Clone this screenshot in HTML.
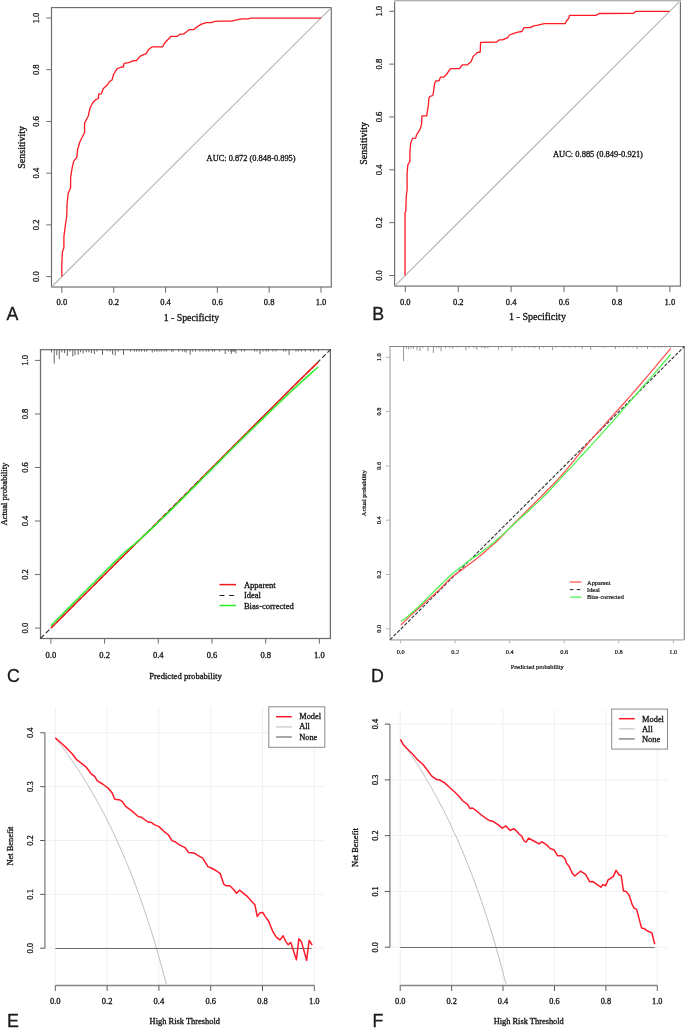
<!DOCTYPE html>
<html><head><meta charset="utf-8"><title>Figure</title>
<style>html,body{margin:0;padding:0;background:#fff;}svg{display:block;will-change:transform;} text{stroke:currentColor;stroke-width:0.3px;}</style></head>
<body><svg width="685" height="1028" viewBox="0 0 685 1028">

<rect x="51.5" y="7.6" width="279.8" height="279.4" fill="none" stroke="#6c6c6c" stroke-width="1.15"/>
<line x1="51.5" y1="287" x2="331.3" y2="7.6" stroke="#b4b4b4" stroke-width="1.1" />
<line x1="46.3" y1="276.6" x2="51.5" y2="276.6" stroke="#6c6c6c" stroke-width="1.0" />
<text transform="translate(39.1,276.6) rotate(-90)" text-anchor="middle" font-size="8.5" font-family="Liberation Serif, serif" fill="#111" color="#111" >0.0</text>
<line x1="61.9" y1="287" x2="61.9" y2="292.8" stroke="#6c6c6c" stroke-width="1.0" />
<text x="61.9" y="305.3" text-anchor="middle" font-size="8.5" font-family="Liberation Serif, serif" fill="#111" color="#111" >0.0</text>
<line x1="46.3" y1="224.88" x2="51.5" y2="224.88" stroke="#6c6c6c" stroke-width="1.0" />
<text transform="translate(39.1,224.88) rotate(-90)" text-anchor="middle" font-size="8.5" font-family="Liberation Serif, serif" fill="#111" color="#111" >0.2</text>
<line x1="113.72" y1="287" x2="113.72" y2="292.8" stroke="#6c6c6c" stroke-width="1.0" />
<text x="113.72" y="305.3" text-anchor="middle" font-size="8.5" font-family="Liberation Serif, serif" fill="#111" color="#111" >0.2</text>
<line x1="46.3" y1="173.16" x2="51.5" y2="173.16" stroke="#6c6c6c" stroke-width="1.0" />
<text transform="translate(39.1,173.16) rotate(-90)" text-anchor="middle" font-size="8.5" font-family="Liberation Serif, serif" fill="#111" color="#111" >0.4</text>
<line x1="165.54" y1="287" x2="165.54" y2="292.8" stroke="#6c6c6c" stroke-width="1.0" />
<text x="165.54" y="305.3" text-anchor="middle" font-size="8.5" font-family="Liberation Serif, serif" fill="#111" color="#111" >0.4</text>
<line x1="46.3" y1="121.44" x2="51.5" y2="121.44" stroke="#6c6c6c" stroke-width="1.0" />
<text transform="translate(39.1,121.44) rotate(-90)" text-anchor="middle" font-size="8.5" font-family="Liberation Serif, serif" fill="#111" color="#111" >0.6</text>
<line x1="217.36" y1="287" x2="217.36" y2="292.8" stroke="#6c6c6c" stroke-width="1.0" />
<text x="217.36" y="305.3" text-anchor="middle" font-size="8.5" font-family="Liberation Serif, serif" fill="#111" color="#111" >0.6</text>
<line x1="46.3" y1="69.72" x2="51.5" y2="69.72" stroke="#6c6c6c" stroke-width="1.0" />
<text transform="translate(39.1,69.72) rotate(-90)" text-anchor="middle" font-size="8.5" font-family="Liberation Serif, serif" fill="#111" color="#111" >0.8</text>
<line x1="269.18" y1="287" x2="269.18" y2="292.8" stroke="#6c6c6c" stroke-width="1.0" />
<text x="269.18" y="305.3" text-anchor="middle" font-size="8.5" font-family="Liberation Serif, serif" fill="#111" color="#111" >0.8</text>
<line x1="46.3" y1="18" x2="51.5" y2="18" stroke="#6c6c6c" stroke-width="1.0" />
<text transform="translate(39.1,18) rotate(-90)" text-anchor="middle" font-size="8.5" font-family="Liberation Serif, serif" fill="#111" color="#111" >1.0</text>
<line x1="321" y1="287" x2="321" y2="292.8" stroke="#6c6c6c" stroke-width="1.0" />
<text x="321" y="305.3" text-anchor="middle" font-size="8.5" font-family="Liberation Serif, serif" fill="#111" color="#111" >1.0</text>
<text transform="translate(24.5,147.3) rotate(-90)" text-anchor="middle" font-size="10" font-family="Liberation Serif, serif" fill="#111" color="#111" >Sensitivity</text>
<text x="191.4" y="320.5" text-anchor="middle" font-size="9.8" font-family="Liberation Serif, serif" fill="#111" color="#111" >1 - Specificity</text>
<text x="206.6" y="161" text-anchor="start" font-size="8.37" font-family="Liberation Serif, serif" fill="#111" color="#111" >AUC: 0.872 (0.848-0.895)</text>
<polyline points="61.9,276.6 61.8,266.3 62.3,252.3 63.9,247.6 63.9,236.7 65.1,227.4 66.7,216.5 67.1,204 68.2,193.2 70.6,187.7 70.6,177.6 72.1,168.2 73.7,161.2 76.8,157.4 77.6,149.6 79.9,141.8 84.6,132.5 84.6,123.1 88.3,116 90,108 92.7,102.8 96.2,99.3 98.4,98.5 98.8,94 101.4,93.7 103.2,88.8 107.6,84.5 109.3,81.8 112,80 113.7,74 117.2,68.7 121.6,67 123.3,67 124.2,63.4 128.6,62.6 133,60.8 136.5,60.5 140,56.4 143.5,54.7 146,53.8 148.7,49.4 152.2,46.8 162.7,46.8 164.5,43.3 171.1,36.3 177.3,36.3 179.9,34.2 183.4,34.2 189.5,29.6 193.9,29.6 196.5,27.2 200.9,24.4 206.2,22.6 211.4,22.6 214,21.7 219.3,21.2 231.6,21.2 236.8,19.8 242.1,18.8 248.2,18.8 250.8,18.2 321.2,18.2" fill="none" stroke="#ff1a22" stroke-width="1.3" stroke-linejoin="round" stroke-linecap="butt" />
<rect x="394.6" y="0.7" width="285.8" height="285.4" fill="none" stroke="#6c6c6c" stroke-width="1.15"/>
<line x1="394.6" y1="286.1" x2="680.4" y2="0.7" stroke="#b4b4b4" stroke-width="1.1" />
<line x1="389.2" y1="275.5" x2="394.6" y2="275.5" stroke="#6c6c6c" stroke-width="1.0" />
<text transform="translate(381.9,275.5) rotate(-90)" text-anchor="middle" font-size="8.5" font-family="Liberation Serif, serif" fill="#111" color="#111" >0.0</text>
<line x1="405.3" y1="286.1" x2="405.3" y2="292.2" stroke="#6c6c6c" stroke-width="1.0" />
<text x="405.3" y="304.8" text-anchor="middle" font-size="8.5" font-family="Liberation Serif, serif" fill="#111" color="#111" >0.0</text>
<line x1="389.2" y1="222.66" x2="394.6" y2="222.66" stroke="#6c6c6c" stroke-width="1.0" />
<text transform="translate(381.9,222.66) rotate(-90)" text-anchor="middle" font-size="8.5" font-family="Liberation Serif, serif" fill="#111" color="#111" >0.2</text>
<line x1="458.22" y1="286.1" x2="458.22" y2="292.2" stroke="#6c6c6c" stroke-width="1.0" />
<text x="458.22" y="304.8" text-anchor="middle" font-size="8.5" font-family="Liberation Serif, serif" fill="#111" color="#111" >0.2</text>
<line x1="389.2" y1="169.82" x2="394.6" y2="169.82" stroke="#6c6c6c" stroke-width="1.0" />
<text transform="translate(381.9,169.82) rotate(-90)" text-anchor="middle" font-size="8.5" font-family="Liberation Serif, serif" fill="#111" color="#111" >0.4</text>
<line x1="511.14" y1="286.1" x2="511.14" y2="292.2" stroke="#6c6c6c" stroke-width="1.0" />
<text x="511.14" y="304.8" text-anchor="middle" font-size="8.5" font-family="Liberation Serif, serif" fill="#111" color="#111" >0.4</text>
<line x1="389.2" y1="116.98" x2="394.6" y2="116.98" stroke="#6c6c6c" stroke-width="1.0" />
<text transform="translate(381.9,116.98) rotate(-90)" text-anchor="middle" font-size="8.5" font-family="Liberation Serif, serif" fill="#111" color="#111" >0.6</text>
<line x1="564.06" y1="286.1" x2="564.06" y2="292.2" stroke="#6c6c6c" stroke-width="1.0" />
<text x="564.06" y="304.8" text-anchor="middle" font-size="8.5" font-family="Liberation Serif, serif" fill="#111" color="#111" >0.6</text>
<line x1="389.2" y1="64.14" x2="394.6" y2="64.14" stroke="#6c6c6c" stroke-width="1.0" />
<text transform="translate(381.9,64.14) rotate(-90)" text-anchor="middle" font-size="8.5" font-family="Liberation Serif, serif" fill="#111" color="#111" >0.8</text>
<line x1="616.98" y1="286.1" x2="616.98" y2="292.2" stroke="#6c6c6c" stroke-width="1.0" />
<text x="616.98" y="304.8" text-anchor="middle" font-size="8.5" font-family="Liberation Serif, serif" fill="#111" color="#111" >0.8</text>
<line x1="389.2" y1="11.3" x2="394.6" y2="11.3" stroke="#6c6c6c" stroke-width="1.0" />
<text transform="translate(381.9,11.3) rotate(-90)" text-anchor="middle" font-size="8.5" font-family="Liberation Serif, serif" fill="#111" color="#111" >1.0</text>
<line x1="669.9" y1="286.1" x2="669.9" y2="292.2" stroke="#6c6c6c" stroke-width="1.0" />
<text x="669.9" y="304.8" text-anchor="middle" font-size="8.5" font-family="Liberation Serif, serif" fill="#111" color="#111" >1.0</text>
<text transform="translate(366.7,143.4) rotate(-90)" text-anchor="middle" font-size="10" font-family="Liberation Serif, serif" fill="#111" color="#111" >Sensitivity</text>
<text x="537.5" y="320.2" text-anchor="middle" font-size="10.04" font-family="Liberation Serif, serif" fill="#111" color="#111" >1 - Specificity</text>
<text x="553" y="156.8" text-anchor="start" font-size="8.46" font-family="Liberation Serif, serif" fill="#111" color="#111" >AUC: 0.885 (0.849-0.921)</text>
<polyline points="405,275.4 405,212.5 405.8,210.9 406.3,196 407.1,189.4 407.1,172.8 407.9,164.6 409.9,161.3 409.9,151.3 410.7,143.1 412.4,138.4 415.7,138.1 416.5,134.8 419.8,129.8 421.5,124.9 422,115.8 426.8,115.8 427.2,112.1 428.4,105.1 428.9,98.1 430.1,96.4 432.9,95.5 433.6,91.1 434.7,83.2 435.9,80.9 438.9,80.9 440.6,77.1 443.8,77.1 446.4,74.5 450.5,68.7 459.6,68.7 462.2,64.8 467.4,64.8 471,61.7 473.2,56.4 477.1,52.6 480.2,52 480.6,42.4 496.7,42 499,39.9 502.5,39.9 507.7,37.7 509.5,35 513.9,33.3 517.9,32.1 521.9,31.5 524,27.7 530.1,27.7 533.7,25.9 538,25.1 544.2,23.7 565.2,23.7 566.1,21.5 568.7,18.4 569.6,15.4 595.8,15.4 599.3,13.5 633.3,13.4 635.7,11.4 669.7,11.4" fill="none" stroke="#ff1a22" stroke-width="1.3" stroke-linejoin="round" stroke-linecap="butt" />
<rect x="395.1" y="0" width="284.8" height="2" fill="#fff"/>
<line x1="394.1" y1="0.5" x2="680.9" y2="0.5" stroke="#b0b0b0" stroke-width="1.0" />
<line x1="394.1" y1="1.5" x2="680.9" y2="1.5" stroke="#e2e2e2" stroke-width="1.0" />
<text x="6.6" y="320.3" text-anchor="start" font-size="17.8" font-family="Liberation Sans, sans-serif" fill="#1a1a1a" color="#1a1a1a" >A</text>
<text x="372.3" y="320" text-anchor="start" font-size="17.8" font-family="Liberation Sans, sans-serif" fill="#1a1a1a" color="#1a1a1a" >B</text>
<text x="6.9" y="681.7" text-anchor="start" font-size="17.8" font-family="Liberation Sans, sans-serif" fill="#1a1a1a" color="#1a1a1a" >C</text>
<text x="370.9" y="681.7" text-anchor="start" font-size="17.8" font-family="Liberation Sans, sans-serif" fill="#1a1a1a" color="#1a1a1a" >D</text>
<text x="7" y="1026.8" text-anchor="start" font-size="17.8" font-family="Liberation Sans, sans-serif" fill="#1a1a1a" color="#1a1a1a" >E</text>
<text x="372.6" y="1026.6" text-anchor="start" font-size="17.8" font-family="Liberation Sans, sans-serif" fill="#1a1a1a" color="#1a1a1a" >F</text>
<rect x="40.5" y="349.7" width="289.9" height="288.8" fill="none" stroke="#6c6c6c" stroke-width="1.25"/>
<line x1="34.9" y1="628.1" x2="40.5" y2="628.1" stroke="#6c6c6c" stroke-width="1.0" />
<text transform="translate(28,628.1) rotate(-90)" text-anchor="middle" font-size="8.5" font-family="Liberation Serif, serif" fill="#111" color="#111" >0.0</text>
<line x1="50.9" y1="638.5" x2="50.9" y2="643.7" stroke="#6c6c6c" stroke-width="1.0" />
<text x="50.9" y="657.8" text-anchor="middle" font-size="8.5" font-family="Liberation Serif, serif" fill="#111" color="#111" >0.0</text>
<line x1="34.9" y1="574.56" x2="40.5" y2="574.56" stroke="#6c6c6c" stroke-width="1.0" />
<text transform="translate(28,574.56) rotate(-90)" text-anchor="middle" font-size="8.5" font-family="Liberation Serif, serif" fill="#111" color="#111" >0.2</text>
<line x1="104.6" y1="638.5" x2="104.6" y2="643.7" stroke="#6c6c6c" stroke-width="1.0" />
<text x="104.6" y="657.8" text-anchor="middle" font-size="8.5" font-family="Liberation Serif, serif" fill="#111" color="#111" >0.2</text>
<line x1="34.9" y1="521.02" x2="40.5" y2="521.02" stroke="#6c6c6c" stroke-width="1.0" />
<text transform="translate(28,521.02) rotate(-90)" text-anchor="middle" font-size="8.5" font-family="Liberation Serif, serif" fill="#111" color="#111" >0.4</text>
<line x1="158.3" y1="638.5" x2="158.3" y2="643.7" stroke="#6c6c6c" stroke-width="1.0" />
<text x="158.3" y="657.8" text-anchor="middle" font-size="8.5" font-family="Liberation Serif, serif" fill="#111" color="#111" >0.4</text>
<line x1="34.9" y1="467.48" x2="40.5" y2="467.48" stroke="#6c6c6c" stroke-width="1.0" />
<text transform="translate(28,467.48) rotate(-90)" text-anchor="middle" font-size="8.5" font-family="Liberation Serif, serif" fill="#111" color="#111" >0.6</text>
<line x1="212" y1="638.5" x2="212" y2="643.7" stroke="#6c6c6c" stroke-width="1.0" />
<text x="212" y="657.8" text-anchor="middle" font-size="8.5" font-family="Liberation Serif, serif" fill="#111" color="#111" >0.6</text>
<line x1="34.9" y1="413.94" x2="40.5" y2="413.94" stroke="#6c6c6c" stroke-width="1.0" />
<text transform="translate(28,413.94) rotate(-90)" text-anchor="middle" font-size="8.5" font-family="Liberation Serif, serif" fill="#111" color="#111" >0.8</text>
<line x1="265.7" y1="638.5" x2="265.7" y2="643.7" stroke="#6c6c6c" stroke-width="1.0" />
<text x="265.7" y="657.8" text-anchor="middle" font-size="8.5" font-family="Liberation Serif, serif" fill="#111" color="#111" >0.8</text>
<line x1="34.9" y1="360.4" x2="40.5" y2="360.4" stroke="#6c6c6c" stroke-width="1.0" />
<text transform="translate(28,360.4) rotate(-90)" text-anchor="middle" font-size="8.5" font-family="Liberation Serif, serif" fill="#111" color="#111" >1.0</text>
<line x1="319.4" y1="638.5" x2="319.4" y2="643.7" stroke="#6c6c6c" stroke-width="1.0" />
<text x="319.4" y="657.8" text-anchor="middle" font-size="8.5" font-family="Liberation Serif, serif" fill="#111" color="#111" >1.0</text>
<text transform="translate(7,494.1) rotate(-90)" text-anchor="middle" font-size="8.65" font-family="Liberation Serif, serif" fill="#111" color="#111" >Actual probability</text>
<text x="185.45" y="678.8" text-anchor="middle" font-size="8.65" font-family="Liberation Serif, serif" fill="#111" color="#111" >Predicted probability</text>
<line x1="51.4" y1="349.7" x2="51.4" y2="352.6" stroke="#555" stroke-width="0.9" />
<line x1="54.2" y1="349.7" x2="54.2" y2="363.7" stroke="#555" stroke-width="0.9" />
<line x1="56.8" y1="349.7" x2="56.8" y2="355.2" stroke="#555" stroke-width="0.9" />
<line x1="59.3" y1="349.7" x2="59.3" y2="359.2" stroke="#555" stroke-width="0.9" />
<line x1="61.9" y1="349.7" x2="61.9" y2="352.3" stroke="#555" stroke-width="0.9" />
<line x1="64.5" y1="349.7" x2="64.5" y2="353" stroke="#555" stroke-width="0.9" />
<line x1="67.3" y1="349.7" x2="67.3" y2="356" stroke="#555" stroke-width="0.9" />
<line x1="69.9" y1="349.7" x2="69.9" y2="351.6" stroke="#555" stroke-width="0.9" />
<line x1="72.8" y1="349.7" x2="72.8" y2="356.4" stroke="#555" stroke-width="0.9" />
<line x1="75" y1="349.7" x2="75" y2="355.2" stroke="#555" stroke-width="0.9" />
<line x1="78.2" y1="349.7" x2="78.2" y2="354.9" stroke="#555" stroke-width="0.9" />
<line x1="80.6" y1="349.7" x2="80.6" y2="352.3" stroke="#555" stroke-width="0.9" />
<line x1="83.2" y1="349.7" x2="83.2" y2="353.5" stroke="#555" stroke-width="0.9" />
<line x1="86.4" y1="349.7" x2="86.4" y2="352.3" stroke="#555" stroke-width="0.9" />
<line x1="88.9" y1="349.7" x2="88.9" y2="352.3" stroke="#555" stroke-width="0.9" />
<line x1="91.4" y1="349.7" x2="91.4" y2="353" stroke="#555" stroke-width="0.9" />
<line x1="94.3" y1="349.7" x2="94.3" y2="354" stroke="#555" stroke-width="0.9" />
<line x1="96.9" y1="349.7" x2="96.9" y2="351.6" stroke="#555" stroke-width="0.9" />
<line x1="102.5" y1="349.7" x2="102.5" y2="354.9" stroke="#555" stroke-width="0.9" />
<line x1="107.4" y1="349.7" x2="107.4" y2="351.1" stroke="#555" stroke-width="0.9" />
<line x1="110.1" y1="349.7" x2="110.1" y2="351.6" stroke="#555" stroke-width="0.9" />
<line x1="112.6" y1="349.7" x2="112.6" y2="354.5" stroke="#555" stroke-width="0.9" />
<line x1="115.2" y1="349.7" x2="115.2" y2="355.5" stroke="#555" stroke-width="0.9" />
<line x1="118.1" y1="349.7" x2="118.1" y2="351.6" stroke="#555" stroke-width="0.9" />
<line x1="123.5" y1="349.7" x2="123.5" y2="354.9" stroke="#555" stroke-width="0.9" />
<line x1="130.5" y1="349.7" x2="130.5" y2="351.6" stroke="#555" stroke-width="0.9" />
<line x1="134.2" y1="349.7" x2="134.2" y2="351.6" stroke="#555" stroke-width="0.9" />
<line x1="136.46" y1="349.7" x2="136.46" y2="351.6" stroke="#555" stroke-width="0.9" />
<line x1="139.09" y1="349.7" x2="139.09" y2="351.6" stroke="#555" stroke-width="0.9" />
<line x1="141.57" y1="349.7" x2="141.57" y2="351.6" stroke="#555" stroke-width="0.9" />
<line x1="144.49" y1="349.7" x2="144.49" y2="351.6" stroke="#555" stroke-width="0.9" />
<line x1="146.68" y1="349.7" x2="146.68" y2="351.6" stroke="#555" stroke-width="0.9" />
<line x1="152.23" y1="349.7" x2="152.23" y2="352.6" stroke="#555" stroke-width="0.9" />
<line x1="154.71" y1="349.7" x2="154.71" y2="351.6" stroke="#555" stroke-width="0.9" />
<line x1="156.9" y1="349.7" x2="156.9" y2="351.6" stroke="#555" stroke-width="0.9" />
<line x1="159.09" y1="349.7" x2="159.09" y2="351.6" stroke="#555" stroke-width="0.9" />
<line x1="161.28" y1="349.7" x2="161.28" y2="351.6" stroke="#555" stroke-width="0.9" />
<line x1="163.91" y1="349.7" x2="163.91" y2="351.6" stroke="#555" stroke-width="0.9" />
<line x1="166.39" y1="349.7" x2="166.39" y2="351.6" stroke="#555" stroke-width="0.9" />
<line x1="171.5" y1="349.7" x2="171.5" y2="351.6" stroke="#555" stroke-width="0.9" />
<line x1="173.25" y1="349.7" x2="173.25" y2="351.6" stroke="#555" stroke-width="0.9" />
<line x1="178.8" y1="349.7" x2="178.8" y2="351.6" stroke="#555" stroke-width="0.9" />
<line x1="182.45" y1="349.7" x2="182.45" y2="351.6" stroke="#555" stroke-width="0.9" />
<line x1="184.64" y1="349.7" x2="184.64" y2="351.6" stroke="#555" stroke-width="0.9" />
<line x1="186.09" y1="349.7" x2="186.09" y2="352.6" stroke="#555" stroke-width="0.9" />
<line x1="190.18" y1="349.7" x2="190.18" y2="354.5" stroke="#555" stroke-width="0.9" />
<line x1="192.66" y1="349.7" x2="192.66" y2="351.6" stroke="#555" stroke-width="0.9" />
<line x1="195.58" y1="349.7" x2="195.58" y2="351.6" stroke="#555" stroke-width="0.9" />
<line x1="199.96" y1="349.7" x2="199.96" y2="351.6" stroke="#555" stroke-width="0.9" />
<line x1="202.88" y1="349.7" x2="202.88" y2="351.6" stroke="#555" stroke-width="0.9" />
<line x1="206.24" y1="349.7" x2="206.24" y2="351.6" stroke="#555" stroke-width="0.9" />
<line x1="208.72" y1="349.7" x2="208.72" y2="351.6" stroke="#555" stroke-width="0.9" />
<line x1="212.37" y1="349.7" x2="212.37" y2="351.6" stroke="#555" stroke-width="0.9" />
<line x1="214.56" y1="349.7" x2="214.56" y2="351.6" stroke="#555" stroke-width="0.9" />
<line x1="219.67" y1="349.7" x2="219.67" y2="351.6" stroke="#555" stroke-width="0.9" />
<line x1="225.22" y1="349.7" x2="225.22" y2="354" stroke="#555" stroke-width="0.9" />
<line x1="228.43" y1="349.7" x2="228.43" y2="351.6" stroke="#555" stroke-width="0.9" />
<line x1="231.35" y1="349.7" x2="231.35" y2="353.8" stroke="#555" stroke-width="0.9" />
<line x1="234.27" y1="349.7" x2="234.27" y2="351.6" stroke="#555" stroke-width="0.9" />
<line x1="230.77" y1="349.7" x2="230.77" y2="351.5" stroke="#555" stroke-width="0.9" />
<line x1="232.3" y1="349.7" x2="232.3" y2="351.5" stroke="#555" stroke-width="0.9" />
<line x1="233.83" y1="349.7" x2="233.83" y2="351.5" stroke="#555" stroke-width="0.9" />
<line x1="235.83" y1="349.7" x2="235.83" y2="353.4" stroke="#555" stroke-width="0.9" />
<line x1="241.5" y1="349.7" x2="241.5" y2="351.5" stroke="#555" stroke-width="0.9" />
<line x1="244.57" y1="349.7" x2="244.57" y2="351.5" stroke="#555" stroke-width="0.9" />
<line x1="254.54" y1="349.7" x2="254.54" y2="351.5" stroke="#555" stroke-width="0.9" />
<line x1="256.84" y1="349.7" x2="256.84" y2="351.5" stroke="#555" stroke-width="0.9" />
<line x1="259.91" y1="349.7" x2="259.91" y2="354.2" stroke="#555" stroke-width="0.9" />
<line x1="262.98" y1="349.7" x2="262.98" y2="351.5" stroke="#555" stroke-width="0.9" />
<line x1="266.04" y1="349.7" x2="266.04" y2="351.5" stroke="#555" stroke-width="0.9" />
<line x1="268.34" y1="349.7" x2="268.34" y2="351.5" stroke="#555" stroke-width="0.9" />
<line x1="272.94" y1="349.7" x2="272.94" y2="351.5" stroke="#555" stroke-width="0.9" />
<line x1="276.01" y1="349.7" x2="276.01" y2="351.5" stroke="#555" stroke-width="0.9" />
<line x1="283.68" y1="349.7" x2="283.68" y2="351.5" stroke="#555" stroke-width="0.9" />
<line x1="285.98" y1="349.7" x2="285.98" y2="351.5" stroke="#555" stroke-width="0.9" />
<line x1="289.05" y1="349.7" x2="289.05" y2="355" stroke="#555" stroke-width="0.9" />
<line x1="295.95" y1="349.7" x2="295.95" y2="351.5" stroke="#555" stroke-width="0.9" />
<line x1="298.25" y1="349.7" x2="298.25" y2="351.5" stroke="#555" stroke-width="0.9" />
<line x1="301.32" y1="349.7" x2="301.32" y2="351.5" stroke="#555" stroke-width="0.9" />
<line x1="305.15" y1="349.7" x2="305.15" y2="351.5" stroke="#555" stroke-width="0.9" />
<line x1="310.52" y1="349.7" x2="310.52" y2="351.5" stroke="#555" stroke-width="0.9" />
<line x1="313.59" y1="349.7" x2="313.59" y2="351.5" stroke="#555" stroke-width="0.9" />
<line x1="318.19" y1="349.7" x2="318.19" y2="351.5" stroke="#555" stroke-width="0.9" />
<line x1="40.5" y1="638.5" x2="330.4" y2="349.7" stroke="#2a2a2a" stroke-width="1.1" stroke-dasharray="5,2.5"/>
<polyline points="50.9,628.1 53.82,625.19 57.86,621.16 62.65,616.39 67.81,611.24 72.96,606.1 77.75,601.33 82.3,596.79 86.94,592.17 91.58,587.54 96.13,583.01 100.5,578.65 104.6,574.56 108.44,570.73 112.1,567.07 115.57,563.6 118.88,560.3 122.02,557.17 125.01,554.21 127.71,551.54 130.12,549.18 132.36,546.99 134.57,544.83 136.91,542.55 139.5,540.03 142.3,537.32 145.15,534.57 148.13,531.71 151.28,528.67 154.65,525.4 158.3,521.82 162.31,517.86 166.65,513.55 171.22,509.01 175.9,504.33 180.58,499.64 185.15,495.05 189.62,490.53 194.1,485.98 198.57,481.42 203.05,476.85 207.53,472.29 212,467.75 216.47,463.22 220.95,458.71 225.43,454.2 229.9,449.69 234.38,445.2 238.85,440.71 243.32,436.23 247.8,431.77 252.27,427.31 256.75,422.85 261.22,418.4 265.7,413.94 270.19,409.46 274.7,404.95 279.21,400.44 283.7,395.96 288.16,391.53 292.55,387.17 297.17,382.61 302.08,377.79 306.96,373.01 311.46,368.6 315.25,364.89 318,362.19" fill="none" stroke="#f01818" stroke-width="1.5" stroke-linejoin="round" stroke-linecap="butt" />
<polyline points="50.9,625.69 53.76,622.82 57.66,618.91 62.31,614.25 67.41,609.14 72.65,603.89 77.75,598.79 83.01,593.52 88.73,587.8 94.6,581.92 100.3,576.22 105.53,571.01 109.97,566.61 113.48,563.14 116.29,560.37 118.63,558.1 120.71,556.1 122.76,554.18 125.01,552.13 127.31,550.09 129.48,548.27 131.62,546.53 133.84,544.71 136.25,542.68 138.97,540.29 142.05,537.5 145.42,534.4 148.99,531.09 152.65,527.65 156.32,524.18 159.91,520.75 163.35,517.43 166.7,514.16 170.06,510.86 173.52,507.43 177.18,503.79 181.12,499.87 185.39,495.62 189.91,491.09 194.63,486.36 199.48,481.49 204.4,476.56 209.31,471.63 214.34,466.59 219.55,461.36 224.82,456.06 230.05,450.82 235.12,445.75 239.92,440.98 244.35,436.6 248.48,432.55 252.44,428.68 256.4,424.83 260.5,420.86 264.89,416.62 269.69,411.99 274.8,407.07 280.05,402.02 285.27,397.03 290.3,392.25 294.97,387.87 299.49,383.7 304.04,379.57 308.39,375.66 312.33,372.15 315.63,369.21 318.06,367.04" fill="none" stroke="#2af22a" stroke-width="1.5" stroke-linejoin="round" stroke-linecap="butt" />
<line x1="219.5" y1="584.6" x2="236" y2="584.6" stroke="#f01818" stroke-width="1.5" />
<line x1="219.5" y1="595.5" x2="236" y2="595.5" stroke="#222" stroke-width="1.0" stroke-dasharray="4.95,4.62"/>
<line x1="219.5" y1="605.5" x2="236" y2="605.5" stroke="#2af22a" stroke-width="1.5" />
<text x="243.9" y="587.8" text-anchor="start" font-size="8.55" font-family="Liberation Serif, serif" fill="#111" color="#111" >Apparent</text>
<text x="243.9" y="598.2" text-anchor="start" font-size="8.55" font-family="Liberation Serif, serif" fill="#111" color="#111" >Ideal</text>
<text x="243.9" y="608.7" text-anchor="start" font-size="8.55" font-family="Liberation Serif, serif" fill="#111" color="#111" >Bias-corrected</text>
<line x1="390" y1="639.8" x2="684.3" y2="639.8" stroke="#c2c2c2" stroke-width="1.7" />
<line x1="390" y1="346.5" x2="390" y2="639.8" stroke="#c2c2c2" stroke-width="1.7" />
<line x1="389.5" y1="346.5" x2="684.8" y2="346.5" stroke="#858585" stroke-width="1.0" />
<line x1="684.3" y1="346.5" x2="684.3" y2="639.8" stroke="#8a8a8a" stroke-width="1.2" />
<line x1="385.8" y1="628.8" x2="390" y2="628.8" stroke="#b5b5b5" stroke-width="1.0" />
<text transform="translate(381,628.8) rotate(-90)" text-anchor="middle" font-size="6.3" font-family="Liberation Serif, serif" fill="#111" color="#111"  style="stroke-width:0.2px">0.0</text>
<line x1="400.6" y1="639.8" x2="400.6" y2="643.3" stroke="#b5b5b5" stroke-width="1.0" />
<text x="400.6" y="653.7" text-anchor="middle" font-size="6.3" font-family="Liberation Serif, serif" fill="#111" color="#111"  style="stroke-width:0.2px">0.0</text>
<line x1="385.8" y1="574.5" x2="390" y2="574.5" stroke="#b5b5b5" stroke-width="1.0" />
<text transform="translate(381,574.5) rotate(-90)" text-anchor="middle" font-size="6.3" font-family="Liberation Serif, serif" fill="#111" color="#111"  style="stroke-width:0.2px">0.2</text>
<line x1="455.14" y1="639.8" x2="455.14" y2="643.3" stroke="#b5b5b5" stroke-width="1.0" />
<text x="455.14" y="653.7" text-anchor="middle" font-size="6.3" font-family="Liberation Serif, serif" fill="#111" color="#111"  style="stroke-width:0.2px">0.2</text>
<line x1="385.8" y1="520.2" x2="390" y2="520.2" stroke="#b5b5b5" stroke-width="1.0" />
<text transform="translate(381,520.2) rotate(-90)" text-anchor="middle" font-size="6.3" font-family="Liberation Serif, serif" fill="#111" color="#111"  style="stroke-width:0.2px">0.4</text>
<line x1="509.68" y1="639.8" x2="509.68" y2="643.3" stroke="#b5b5b5" stroke-width="1.0" />
<text x="509.68" y="653.7" text-anchor="middle" font-size="6.3" font-family="Liberation Serif, serif" fill="#111" color="#111"  style="stroke-width:0.2px">0.4</text>
<line x1="385.8" y1="465.9" x2="390" y2="465.9" stroke="#b5b5b5" stroke-width="1.0" />
<text transform="translate(381,465.9) rotate(-90)" text-anchor="middle" font-size="6.3" font-family="Liberation Serif, serif" fill="#111" color="#111"  style="stroke-width:0.2px">0.6</text>
<line x1="564.22" y1="639.8" x2="564.22" y2="643.3" stroke="#b5b5b5" stroke-width="1.0" />
<text x="564.22" y="653.7" text-anchor="middle" font-size="6.3" font-family="Liberation Serif, serif" fill="#111" color="#111"  style="stroke-width:0.2px">0.6</text>
<line x1="385.8" y1="411.6" x2="390" y2="411.6" stroke="#b5b5b5" stroke-width="1.0" />
<text transform="translate(381,411.6) rotate(-90)" text-anchor="middle" font-size="6.3" font-family="Liberation Serif, serif" fill="#111" color="#111"  style="stroke-width:0.2px">0.8</text>
<line x1="618.76" y1="639.8" x2="618.76" y2="643.3" stroke="#b5b5b5" stroke-width="1.0" />
<text x="618.76" y="653.7" text-anchor="middle" font-size="6.3" font-family="Liberation Serif, serif" fill="#111" color="#111"  style="stroke-width:0.2px">0.8</text>
<line x1="385.8" y1="357.3" x2="390" y2="357.3" stroke="#b5b5b5" stroke-width="1.0" />
<text transform="translate(381,357.3) rotate(-90)" text-anchor="middle" font-size="6.3" font-family="Liberation Serif, serif" fill="#111" color="#111"  style="stroke-width:0.2px">1.0</text>
<line x1="673.3" y1="639.8" x2="673.3" y2="643.3" stroke="#b5b5b5" stroke-width="1.0" />
<text x="673.3" y="653.7" text-anchor="middle" font-size="6.3" font-family="Liberation Serif, serif" fill="#111" color="#111"  style="stroke-width:0.2px">1.0</text>
<text transform="translate(365.9,493.15) rotate(-90)" text-anchor="middle" font-size="6.3" font-family="Liberation Serif, serif" fill="#111" color="#111"  style="stroke-width:0.2px">Actual probability</text>
<text x="537.15" y="668.8" text-anchor="middle" font-size="6.3" font-family="Liberation Serif, serif" fill="#111" color="#111"  style="stroke-width:0.2px">Predicted probability</text>
<line x1="403.58" y1="346.5" x2="403.58" y2="361.25" stroke="#8a8a8a" stroke-width="0.9" />
<line x1="406.35" y1="346.5" x2="406.35" y2="348.84" stroke="#8a8a8a" stroke-width="0.9" />
<line x1="408.69" y1="346.5" x2="408.69" y2="349.57" stroke="#8a8a8a" stroke-width="0.9" />
<line x1="411.17" y1="346.5" x2="411.17" y2="348.55" stroke="#8a8a8a" stroke-width="0.9" />
<line x1="413.36" y1="346.5" x2="413.36" y2="348.84" stroke="#8a8a8a" stroke-width="0.9" />
<line x1="417.01" y1="346.5" x2="417.01" y2="350.3" stroke="#8a8a8a" stroke-width="0.9" />
<line x1="419.93" y1="346.5" x2="419.93" y2="351.03" stroke="#8a8a8a" stroke-width="0.9" />
<line x1="422.85" y1="346.5" x2="422.85" y2="348.11" stroke="#8a8a8a" stroke-width="0.9" />
<line x1="427.96" y1="346.5" x2="427.96" y2="351.03" stroke="#8a8a8a" stroke-width="0.9" />
<line x1="433.36" y1="346.5" x2="433.36" y2="352.93" stroke="#8a8a8a" stroke-width="0.9" />
<line x1="436.42" y1="346.5" x2="436.42" y2="348.11" stroke="#8a8a8a" stroke-width="0.9" />
<line x1="438.91" y1="346.5" x2="438.91" y2="348.11" stroke="#8a8a8a" stroke-width="0.9" />
<line x1="441.09" y1="346.5" x2="441.09" y2="351.47" stroke="#8a8a8a" stroke-width="0.9" />
<line x1="445.47" y1="346.5" x2="445.47" y2="348.11" stroke="#8a8a8a" stroke-width="0.9" />
<line x1="449.85" y1="346.5" x2="449.85" y2="348.11" stroke="#8a8a8a" stroke-width="0.9" />
<line x1="452.77" y1="346.5" x2="452.77" y2="348.55" stroke="#8a8a8a" stroke-width="0.9" />
<line x1="456.42" y1="346.5" x2="456.42" y2="347.38" stroke="#8a8a8a" stroke-width="0.9" />
<line x1="460.07" y1="346.5" x2="460.07" y2="347.38" stroke="#8a8a8a" stroke-width="0.9" />
<line x1="465.91" y1="346.5" x2="465.91" y2="350.3" stroke="#8a8a8a" stroke-width="0.9" />
<line x1="468.83" y1="346.5" x2="468.83" y2="348.11" stroke="#8a8a8a" stroke-width="0.9" />
<line x1="473.94" y1="346.5" x2="473.94" y2="348.11" stroke="#8a8a8a" stroke-width="0.9" />
<line x1="476.86" y1="346.5" x2="476.86" y2="349.57" stroke="#8a8a8a" stroke-width="0.9" />
<line x1="481.97" y1="346.5" x2="481.97" y2="348.11" stroke="#8a8a8a" stroke-width="0.9" />
<line x1="484.89" y1="346.5" x2="484.89" y2="348.55" stroke="#8a8a8a" stroke-width="0.9" />
<line x1="487.81" y1="346.5" x2="487.81" y2="348.11" stroke="#8a8a8a" stroke-width="0.9" />
<line x1="485.73" y1="346.5" x2="485.73" y2="347.67" stroke="#8a8a8a" stroke-width="0.9" />
<line x1="498.43" y1="346.5" x2="498.43" y2="349.57" stroke="#8a8a8a" stroke-width="0.9" />
<line x1="501.35" y1="346.5" x2="501.35" y2="347.67" stroke="#8a8a8a" stroke-width="0.9" />
<line x1="512.01" y1="346.5" x2="512.01" y2="351.03" stroke="#8a8a8a" stroke-width="0.9" />
<line x1="515.66" y1="346.5" x2="515.66" y2="347.67" stroke="#8a8a8a" stroke-width="0.9" />
<line x1="520.04" y1="346.5" x2="520.04" y2="347.67" stroke="#8a8a8a" stroke-width="0.9" />
<line x1="524.42" y1="346.5" x2="524.42" y2="347.67" stroke="#8a8a8a" stroke-width="0.9" />
<line x1="528.8" y1="346.5" x2="528.8" y2="347.67" stroke="#8a8a8a" stroke-width="0.9" />
<line x1="533.18" y1="346.5" x2="533.18" y2="347.67" stroke="#8a8a8a" stroke-width="0.9" />
<line x1="535.36" y1="346.5" x2="535.36" y2="347.67" stroke="#8a8a8a" stroke-width="0.9" />
<line x1="539.31" y1="346.5" x2="539.31" y2="349.57" stroke="#8a8a8a" stroke-width="0.9" />
<line x1="543.39" y1="346.5" x2="543.39" y2="347.67" stroke="#8a8a8a" stroke-width="0.9" />
<line x1="552.45" y1="346.5" x2="552.45" y2="350.01" stroke="#8a8a8a" stroke-width="0.9" />
<line x1="556.53" y1="346.5" x2="556.53" y2="347.67" stroke="#8a8a8a" stroke-width="0.9" />
<line x1="563.83" y1="346.5" x2="563.83" y2="347.67" stroke="#8a8a8a" stroke-width="0.9" />
<line x1="569.67" y1="346.5" x2="569.67" y2="347.67" stroke="#8a8a8a" stroke-width="0.9" />
<line x1="575.51" y1="346.5" x2="575.51" y2="347.67" stroke="#8a8a8a" stroke-width="0.9" />
<line x1="582.08" y1="346.5" x2="582.08" y2="348.84" stroke="#8a8a8a" stroke-width="0.9" />
<line x1="582.3" y1="346.5" x2="582.3" y2="347.6" stroke="#8a8a8a" stroke-width="0.9" />
<line x1="590.74" y1="346.5" x2="590.74" y2="349.9" stroke="#8a8a8a" stroke-width="0.9" />
<line x1="602.24" y1="346.5" x2="602.24" y2="347.6" stroke="#8a8a8a" stroke-width="0.9" />
<line x1="604.54" y1="346.5" x2="604.54" y2="347.6" stroke="#8a8a8a" stroke-width="0.9" />
<line x1="615.28" y1="346.5" x2="615.28" y2="349.13" stroke="#8a8a8a" stroke-width="0.9" />
<line x1="619.88" y1="346.5" x2="619.88" y2="347.6" stroke="#8a8a8a" stroke-width="0.9" />
<line x1="623.71" y1="346.5" x2="623.71" y2="347.6" stroke="#8a8a8a" stroke-width="0.9" />
<line x1="627.55" y1="346.5" x2="627.55" y2="347.6" stroke="#8a8a8a" stroke-width="0.9" />
<line x1="632.91" y1="346.5" x2="632.91" y2="347.6" stroke="#8a8a8a" stroke-width="0.9" />
<line x1="637.06" y1="346.5" x2="637.06" y2="349.13" stroke="#8a8a8a" stroke-width="0.9" />
<line x1="641.35" y1="346.5" x2="641.35" y2="347.6" stroke="#8a8a8a" stroke-width="0.9" />
<line x1="647.48" y1="346.5" x2="647.48" y2="348.83" stroke="#8a8a8a" stroke-width="0.9" />
<line x1="652.09" y1="346.5" x2="652.09" y2="347.6" stroke="#8a8a8a" stroke-width="0.9" />
<line x1="655.15" y1="346.5" x2="655.15" y2="347.6" stroke="#8a8a8a" stroke-width="0.9" />
<line x1="658.22" y1="346.5" x2="658.22" y2="347.6" stroke="#8a8a8a" stroke-width="0.9" />
<line x1="661.29" y1="346.5" x2="661.29" y2="347.6" stroke="#8a8a8a" stroke-width="0.9" />
<line x1="665.89" y1="346.5" x2="665.89" y2="347.6" stroke="#8a8a8a" stroke-width="0.9" />
<line x1="670.49" y1="346.5" x2="670.49" y2="347.6" stroke="#8a8a8a" stroke-width="0.9" />
<line x1="390" y1="639.8" x2="684.3" y2="346.5" stroke="#2e2e2e" stroke-width="1.1" stroke-dasharray="3.5,1.6"/>
<polyline points="400.9,625 402.4,623.55 404.39,621.6 406.79,619.26 409.51,616.64 412.44,613.85 415.5,611 418.89,607.93 422.73,604.52 426.79,600.94 430.84,597.36 434.66,593.96 438,590.9 440.81,588.19 443.26,585.7 445.48,583.39 447.57,581.21 449.67,579.12 451.9,577.1 454.24,575.19 456.59,573.43 458.94,571.76 461.3,570.14 463.65,568.51 466,566.8 468.34,565.04 470.68,563.29 473.02,561.51 475.35,559.71 477.68,557.88 480,556 482.42,553.97 484.95,551.77 487.47,549.54 489.87,547.4 492.02,545.48 493.8,543.9 494.96,542.9 495.57,542.43 495.92,542.17 496.33,541.83 497.12,541.07 498.6,539.6 500.81,537.34 503.52,534.53 506.61,531.32 509.94,527.84 513.42,524.26 516.9,520.7 520.49,517.1 524.29,513.33 528.23,509.44 532.21,505.5 536.16,501.56 540,497.7 543.71,493.96 547.34,490.31 550.95,486.67 554.56,482.96 558.19,479.09 561.9,475 565.69,470.59 569.56,465.91 573.45,461.08 577.34,456.22 581.21,451.45 585,446.9 588.65,442.65 592.16,438.63 595.64,434.71 599.19,430.73 602.91,426.58 606.9,422.1 611.14,417.38 615.52,412.53 620.08,407.5 624.83,402.23 629.8,396.65 635,390.7 640.94,383.78 647.69,375.81 654.66,367.54 661.23,359.7 666.82,353.04 670.8,348.3" fill="none" stroke="#ff5050" stroke-width="1.25" stroke-linejoin="round" stroke-linecap="butt" />
<polyline points="400.9,621.2 401.44,620.87 402.11,620.5 402.94,620.03 403.97,619.36 405.24,618.45 406.8,617.2 408.74,615.54 411.04,613.51 413.59,611.23 416.26,608.8 418.9,606.35 421.4,604 423.74,601.73 426.02,599.46 428.28,597.16 430.57,594.83 432.93,592.45 435.4,590 437.98,587.45 440.64,584.81 443.37,582.12 446.16,579.43 449.01,576.77 451.9,574.2 454.97,571.63 458.25,569.01 461.58,566.43 464.82,563.97 467.81,561.73 470.4,559.8 472.43,558.33 473.98,557.28 475.28,556.45 476.57,555.63 478.06,554.61 480,553.2 482.4,551.39 485.08,549.36 487.97,547.13 491,544.73 494.1,542.21 497.2,539.6 500.29,536.88 503.41,534.03 506.61,531.04 509.91,527.94 513.33,524.72 516.9,521.4 520.71,517.92 524.76,514.26 528.93,510.48 533.12,506.66 537.21,502.84 541.1,499.1 544.72,495.49 548.13,491.97 551.46,488.46 554.79,484.88 558.24,481.15 561.9,477.2 565.87,472.91 570.07,468.33 574.39,463.61 578.7,458.88 582.88,454.29 586.8,450 590.34,446.15 593.56,442.66 596.65,439.31 599.79,435.9 603.14,432.2 606.9,428 611.03,423.33 615.39,418.36 619.97,413.11 624.77,407.59 629.78,401.82 635,395.8 640.94,388.95 647.69,381.15 654.66,373.09 661.23,365.47 666.82,359.01 670.8,354.4" fill="none" stroke="#4cf84c" stroke-width="1.25" stroke-linejoin="round" stroke-linecap="butt" />
<line x1="569.9" y1="582" x2="581.6" y2="582" stroke="#ff5050" stroke-width="1.25" />
<line x1="569.9" y1="589.6" x2="581.6" y2="589.6" stroke="#222" stroke-width="1.0" stroke-dasharray="3.51,3.28"/>
<line x1="569.9" y1="597.1" x2="581.6" y2="597.1" stroke="#4cf84c" stroke-width="1.25" />
<text x="587.1" y="584.6" text-anchor="start" font-size="6.3" font-family="Liberation Serif, serif" fill="#111" color="#111"  style="stroke-width:0.2px">Apparent</text>
<text x="587.1" y="592" text-anchor="start" font-size="6.3" font-family="Liberation Serif, serif" fill="#111" color="#111"  style="stroke-width:0.2px">Ideal</text>
<text x="587.1" y="599.4" text-anchor="start" font-size="6.3" font-family="Liberation Serif, serif" fill="#111" color="#111"  style="stroke-width:0.2px">Bias-corrected</text>
<line x1="55.3" y1="706.6" x2="55.3" y2="985.5" stroke="#f0f0f0" stroke-width="1.0" />
<line x1="107.1" y1="706.6" x2="107.1" y2="985.5" stroke="#f0f0f0" stroke-width="1.0" />
<line x1="158.9" y1="706.6" x2="158.9" y2="985.5" stroke="#f0f0f0" stroke-width="1.0" />
<line x1="210.7" y1="706.6" x2="210.7" y2="985.5" stroke="#f0f0f0" stroke-width="1.0" />
<line x1="262.5" y1="706.6" x2="262.5" y2="985.5" stroke="#f0f0f0" stroke-width="1.0" />
<line x1="314.3" y1="706.6" x2="314.3" y2="985.5" stroke="#f0f0f0" stroke-width="1.0" />
<line x1="44.9" y1="948.2" x2="324.5" y2="948.2" stroke="#f0f0f0" stroke-width="1.0" />
<line x1="44.9" y1="894.35" x2="324.5" y2="894.35" stroke="#f0f0f0" stroke-width="1.0" />
<line x1="44.9" y1="840.5" x2="324.5" y2="840.5" stroke="#f0f0f0" stroke-width="1.0" />
<line x1="44.9" y1="786.65" x2="324.5" y2="786.65" stroke="#f0f0f0" stroke-width="1.0" />
<line x1="44.9" y1="732.8" x2="324.5" y2="732.8" stroke="#f0f0f0" stroke-width="1.0" />
<line x1="44.9" y1="948.2" x2="44.9" y2="732.8" stroke="#8a8a8a" stroke-width="1.4" />
<line x1="40.2" y1="948.2" x2="44.9" y2="948.2" stroke="#555" stroke-width="1.0" />
<text transform="translate(33.2,948.2) rotate(-90)" text-anchor="middle" font-size="8.5" font-family="Liberation Serif, serif" fill="#111" color="#111" >0.0</text>
<line x1="40.2" y1="894.35" x2="44.9" y2="894.35" stroke="#555" stroke-width="1.0" />
<text transform="translate(33.2,894.35) rotate(-90)" text-anchor="middle" font-size="8.5" font-family="Liberation Serif, serif" fill="#111" color="#111" >0.1</text>
<line x1="40.2" y1="840.5" x2="44.9" y2="840.5" stroke="#555" stroke-width="1.0" />
<text transform="translate(33.2,840.5) rotate(-90)" text-anchor="middle" font-size="8.5" font-family="Liberation Serif, serif" fill="#111" color="#111" >0.2</text>
<line x1="40.2" y1="786.65" x2="44.9" y2="786.65" stroke="#555" stroke-width="1.0" />
<text transform="translate(33.2,786.65) rotate(-90)" text-anchor="middle" font-size="8.5" font-family="Liberation Serif, serif" fill="#111" color="#111" >0.3</text>
<line x1="40.2" y1="732.8" x2="44.9" y2="732.8" stroke="#555" stroke-width="1.0" />
<text transform="translate(33.2,732.8) rotate(-90)" text-anchor="middle" font-size="8.5" font-family="Liberation Serif, serif" fill="#111" color="#111" >0.4</text>
<line x1="55.3" y1="985.5" x2="314.3" y2="985.5" stroke="#858585" stroke-width="1.4" />
<line x1="55.3" y1="985.5" x2="55.3" y2="991" stroke="#606060" stroke-width="1.0" />
<text x="55.3" y="1003.7" text-anchor="middle" font-size="8.5" font-family="Liberation Serif, serif" fill="#111" color="#111" >0.0</text>
<line x1="107.1" y1="985.5" x2="107.1" y2="991" stroke="#606060" stroke-width="1.0" />
<text x="107.1" y="1003.7" text-anchor="middle" font-size="8.5" font-family="Liberation Serif, serif" fill="#111" color="#111" >0.2</text>
<line x1="158.9" y1="985.5" x2="158.9" y2="991" stroke="#606060" stroke-width="1.0" />
<text x="158.9" y="1003.7" text-anchor="middle" font-size="8.5" font-family="Liberation Serif, serif" fill="#111" color="#111" >0.4</text>
<line x1="210.7" y1="985.5" x2="210.7" y2="991" stroke="#606060" stroke-width="1.0" />
<text x="210.7" y="1003.7" text-anchor="middle" font-size="8.5" font-family="Liberation Serif, serif" fill="#111" color="#111" >0.6</text>
<line x1="262.5" y1="985.5" x2="262.5" y2="991" stroke="#606060" stroke-width="1.0" />
<text x="262.5" y="1003.7" text-anchor="middle" font-size="8.5" font-family="Liberation Serif, serif" fill="#111" color="#111" >0.8</text>
<line x1="314.3" y1="985.5" x2="314.3" y2="991" stroke="#606060" stroke-width="1.0" />
<text x="314.3" y="1003.7" text-anchor="middle" font-size="8.5" font-family="Liberation Serif, serif" fill="#111" color="#111" >1.0</text>
<text transform="translate(12.6,846.05) rotate(-90)" text-anchor="middle" font-size="8.42" font-family="Liberation Serif, serif" fill="#111" color="#111" >Net Benefit</text>
<text x="184.8" y="1023.7" text-anchor="middle" font-size="8.42" font-family="Liberation Serif, serif" fill="#111" color="#111" >High Risk Threshold</text>
<polyline points="55.3,737.92 56.59,739.57 57.89,741.23 59.18,742.91 60.48,744.61 61.77,746.33 63.07,748.07 64.36,749.82 65.66,751.59 66.95,753.38 68.25,755.19 69.54,757.02 70.84,758.87 72.13,760.73 73.43,762.62 74.72,764.53 76.02,766.46 77.31,768.41 78.61,770.38 79.91,772.37 81.2,774.38 82.5,776.42 83.79,778.48 85.09,780.57 86.38,782.67 87.68,784.8 88.97,786.96 90.27,789.14 91.56,791.35 92.86,793.58 94.15,795.84 95.45,798.12 96.74,800.43 98.04,802.77 99.33,805.14 100.63,807.54 101.92,809.96 103.22,812.42 104.51,814.9 105.81,817.42 107.1,819.97 108.4,822.55 109.69,825.16 110.99,827.81 112.28,830.49 113.58,833.2 114.87,835.95 116.17,838.74 117.46,841.56 118.76,844.42 120.05,847.32 121.35,850.26 122.64,853.23 123.94,856.25 125.23,859.31 126.53,862.41 127.82,865.56 129.12,868.74 130.41,871.98 131.71,875.25 133,878.58 134.3,881.95 135.59,885.38 136.89,888.85 138.18,892.37 139.48,895.95 140.77,899.57 142.07,903.26 143.36,907 144.66,910.79 145.95,914.65 147.25,918.56 148.54,922.54 149.84,926.58 151.13,930.68 152.43,934.85 153.72,939.08 155.02,943.38 156.31,947.76 157.61,952.21 158.9,956.73 160.2,961.32 161.49,966 162.79,970.75 164.08,975.59 165.38,980.51 166.67,985.5" fill="none" stroke="#bdbdbd" stroke-width="1.0" stroke-linejoin="round" stroke-linecap="butt" />
<line x1="55.3" y1="948.5" x2="311.71" y2="948.5" stroke="#6e6e6e" stroke-width="1.0" />
<polyline points="55.3,737.9 62.3,744 67.5,748.9 72.8,754.5 76.3,759.4 81.5,763.3 85.9,766.8 91.2,773.8 94.7,776.4 97.3,780.8 102.6,784 107.8,787.8 112.2,793.1 114.8,799.2 120.1,800.1 122.7,801.8 125.3,806.2 131.5,810.6 138.5,816.7 141.1,817.1 148.1,822 151.6,822.5 154.2,824.6 158.6,826.4 163.9,831.3 168.5,835 172,840.6 175.5,842 179,844.7 185.1,847.7 188.7,852.6 193.9,852.9 198.3,855.7 202.7,858.2 207.9,866.6 211.4,868 216.7,871 220.2,873.6 223.7,884.1 226.3,885.8 229.8,885.8 233.3,889.3 236.5,893.2 239.5,890.2 247.3,896.4 255,905.1 257.2,916.4 260.1,912.8 262.7,912.5 265.2,916.4 268.8,921.5 272.9,931.7 276.5,937.3 280,939.9 283.1,935.8 285.7,941.4 288.2,944.8 290.8,942.4 296.4,959.8 298.9,938.8 301.5,941.9 306.6,960.3 309.2,940.4 312.2,945" fill="none" stroke="#ff1a2a" stroke-width="1.5" stroke-linejoin="round" stroke-linecap="butt" />
<rect x="268.8" y="706.8" width="56" height="40.5" fill="#fff" stroke="#8a8a8a" stroke-width="1.0"/>
<line x1="276" y1="716.7" x2="291.8" y2="716.7" stroke="#ff1a2a" stroke-width="1.5" />
<line x1="276" y1="726.9" x2="291.8" y2="726.9" stroke="#cfcfcf" stroke-width="1.5" />
<line x1="276" y1="737" x2="291.8" y2="737" stroke="#8a8a8a" stroke-width="1.5" />
<text x="299.2" y="719.3" text-anchor="start" font-size="8.4" font-family="Liberation Serif, serif" fill="#111" color="#111" >Model</text>
<text x="299.2" y="729.4" text-anchor="start" font-size="8.4" font-family="Liberation Serif, serif" fill="#111" color="#111" >All</text>
<text x="299.2" y="739.5" text-anchor="start" font-size="8.4" font-family="Liberation Serif, serif" fill="#111" color="#111" >None</text>
<line x1="400.2" y1="709.5" x2="400.2" y2="985.5" stroke="#f0f0f0" stroke-width="1.0" />
<line x1="451.62" y1="709.5" x2="451.62" y2="985.5" stroke="#f0f0f0" stroke-width="1.0" />
<line x1="503.04" y1="709.5" x2="503.04" y2="985.5" stroke="#f0f0f0" stroke-width="1.0" />
<line x1="554.46" y1="709.5" x2="554.46" y2="985.5" stroke="#f0f0f0" stroke-width="1.0" />
<line x1="605.88" y1="709.5" x2="605.88" y2="985.5" stroke="#f0f0f0" stroke-width="1.0" />
<line x1="657.3" y1="709.5" x2="657.3" y2="985.5" stroke="#f0f0f0" stroke-width="1.0" />
<line x1="389.9" y1="947.2" x2="667.6" y2="947.2" stroke="#f0f0f0" stroke-width="1.0" />
<line x1="389.9" y1="891.43" x2="667.6" y2="891.43" stroke="#f0f0f0" stroke-width="1.0" />
<line x1="389.9" y1="835.65" x2="667.6" y2="835.65" stroke="#f0f0f0" stroke-width="1.0" />
<line x1="389.9" y1="779.88" x2="667.6" y2="779.88" stroke="#f0f0f0" stroke-width="1.0" />
<line x1="389.9" y1="724.1" x2="667.6" y2="724.1" stroke="#f0f0f0" stroke-width="1.0" />
<line x1="389.9" y1="947.2" x2="389.9" y2="724.1" stroke="#8a8a8a" stroke-width="1.4" />
<line x1="384.8" y1="947.2" x2="389.9" y2="947.2" stroke="#555" stroke-width="1.0" />
<text transform="translate(378.4,947.2) rotate(-90)" text-anchor="middle" font-size="8.3" font-family="Liberation Serif, serif" fill="#111" color="#111" >0.0</text>
<line x1="384.8" y1="891.43" x2="389.9" y2="891.43" stroke="#555" stroke-width="1.0" />
<text transform="translate(378.4,891.43) rotate(-90)" text-anchor="middle" font-size="8.3" font-family="Liberation Serif, serif" fill="#111" color="#111" >0.1</text>
<line x1="384.8" y1="835.65" x2="389.9" y2="835.65" stroke="#555" stroke-width="1.0" />
<text transform="translate(378.4,835.65) rotate(-90)" text-anchor="middle" font-size="8.3" font-family="Liberation Serif, serif" fill="#111" color="#111" >0.2</text>
<line x1="384.8" y1="779.88" x2="389.9" y2="779.88" stroke="#555" stroke-width="1.0" />
<text transform="translate(378.4,779.88) rotate(-90)" text-anchor="middle" font-size="8.3" font-family="Liberation Serif, serif" fill="#111" color="#111" >0.3</text>
<line x1="384.8" y1="724.1" x2="389.9" y2="724.1" stroke="#555" stroke-width="1.0" />
<text transform="translate(378.4,724.1) rotate(-90)" text-anchor="middle" font-size="8.3" font-family="Liberation Serif, serif" fill="#111" color="#111" >0.4</text>
<line x1="400.2" y1="985.5" x2="657.3" y2="985.5" stroke="#858585" stroke-width="1.4" />
<line x1="400.2" y1="985.5" x2="400.2" y2="991" stroke="#606060" stroke-width="1.0" />
<text x="400.2" y="1004.2" text-anchor="middle" font-size="8.3" font-family="Liberation Serif, serif" fill="#111" color="#111" >0.0</text>
<line x1="451.62" y1="985.5" x2="451.62" y2="991" stroke="#606060" stroke-width="1.0" />
<text x="451.62" y="1004.2" text-anchor="middle" font-size="8.3" font-family="Liberation Serif, serif" fill="#111" color="#111" >0.2</text>
<line x1="503.04" y1="985.5" x2="503.04" y2="991" stroke="#606060" stroke-width="1.0" />
<text x="503.04" y="1004.2" text-anchor="middle" font-size="8.3" font-family="Liberation Serif, serif" fill="#111" color="#111" >0.4</text>
<line x1="554.46" y1="985.5" x2="554.46" y2="991" stroke="#606060" stroke-width="1.0" />
<text x="554.46" y="1004.2" text-anchor="middle" font-size="8.3" font-family="Liberation Serif, serif" fill="#111" color="#111" >0.6</text>
<line x1="605.88" y1="985.5" x2="605.88" y2="991" stroke="#606060" stroke-width="1.0" />
<text x="605.88" y="1004.2" text-anchor="middle" font-size="8.3" font-family="Liberation Serif, serif" fill="#111" color="#111" >0.8</text>
<line x1="657.3" y1="985.5" x2="657.3" y2="991" stroke="#606060" stroke-width="1.0" />
<text x="657.3" y="1004.2" text-anchor="middle" font-size="8.3" font-family="Liberation Serif, serif" fill="#111" color="#111" >1.0</text>
<text transform="translate(357.9,847.5) rotate(-90)" text-anchor="middle" font-size="8.38" font-family="Liberation Serif, serif" fill="#111" color="#111" >Net Benefit</text>
<text x="528.75" y="1023.7" text-anchor="middle" font-size="8.38" font-family="Liberation Serif, serif" fill="#111" color="#111" >High Risk Threshold</text>
<polyline points="400.2,739.38 401.49,741.14 402.77,742.92 404.06,744.71 405.34,746.52 406.63,748.35 407.91,750.21 409.2,752.07 410.48,753.96 411.77,755.87 413.06,757.8 414.34,759.75 415.63,761.72 416.91,763.71 418.2,765.72 419.48,767.76 420.77,769.81 422.05,771.89 423.34,773.99 424.62,776.12 425.91,778.26 427.2,780.44 428.48,782.63 429.77,784.85 431.05,787.1 432.34,789.37 433.62,791.67 434.91,794 436.19,796.35 437.48,798.73 438.76,801.14 440.05,803.57 441.34,806.04 442.62,808.53 443.91,811.06 445.19,813.61 446.48,816.2 447.76,818.81 449.05,821.47 450.33,824.15 451.62,826.87 452.91,829.62 454.19,832.4 455.48,835.22 456.76,838.08 458.05,840.98 459.33,843.91 460.62,846.88 461.9,849.89 463.19,852.94 464.48,856.03 465.76,859.16 467.05,862.33 468.33,865.55 469.62,868.81 470.9,872.12 472.19,875.47 473.47,878.87 474.76,882.31 476.04,885.81 477.33,889.35 478.62,892.95 479.9,896.6 481.19,900.3 482.47,904.06 483.76,907.87 485.04,911.74 486.33,915.66 487.61,919.65 488.9,923.7 490.19,927.81 491.47,931.98 492.76,936.22 494.04,940.52 495.33,944.9 496.61,949.34 497.9,953.86 499.18,958.45 500.47,963.11 501.75,967.85 503.04,972.67 504.33,977.57 505.61,982.56 506.9,985.5" fill="none" stroke="#bdbdbd" stroke-width="1.0" stroke-linejoin="round" stroke-linecap="butt" />
<line x1="400.2" y1="947.5" x2="654.73" y2="947.5" stroke="#6e6e6e" stroke-width="1.0" />
<polyline points="400.4,739.4 403.1,744.5 407.4,748.9 413.3,754.7 417.7,759.9 422.8,764.2 427.9,770.8 431.5,775.9 436.6,779.6 439.6,780 444.7,782.9 450.5,788.3 455,792.3 458.5,795.8 462.9,801 467.3,804.2 469.9,808.4 472.5,808 476.9,811.2 481.3,815 485.7,818.2 490,820.8 492.7,821.2 497.9,824.7 502.3,828.2 505.8,825.9 510.2,830.5 513.7,828.7 516.3,830.8 519,834 521.6,836.1 524.2,841 526,842.2 528.6,838.2 533.8,841 539.1,843.9 541.7,841.7 547,845.2 550.5,848.7 554,849.7 557.5,855.7 561.9,855.7 565,858.8 566.5,863.1 569.4,866.8 572.3,873.4 574.9,876 580.3,871.2 585.4,874.1 589.8,881.8 592.7,881.4 600.8,887.2 603,884.6 605.6,885.8 608.1,879.9 613.2,876.6 616.1,870.4 619,874.8 621.2,875.5 623.4,890.9 626.3,891.6 629.2,895.3 632.2,904.7 634.3,908.4 636.5,909.1 641.6,928.1 644.6,928.8 647.5,931 651.9,932.9 654.8,944.2" fill="none" stroke="#ff1a2a" stroke-width="1.5" stroke-linejoin="round" stroke-linecap="butt" />
<rect x="611.7" y="709.1" width="55.8" height="40" fill="#fff" stroke="#8a8a8a" stroke-width="1.0"/>
<line x1="618.9" y1="718.7" x2="634.8" y2="718.7" stroke="#ff1a2a" stroke-width="1.5" />
<line x1="618.9" y1="728.8" x2="634.8" y2="728.8" stroke="#cfcfcf" stroke-width="1.5" />
<line x1="618.9" y1="738.9" x2="634.8" y2="738.9" stroke="#8a8a8a" stroke-width="1.5" />
<text x="642" y="721.6" text-anchor="start" font-size="8.42" font-family="Liberation Serif, serif" fill="#111" color="#111" >Model</text>
<text x="642" y="731.8" text-anchor="start" font-size="8.42" font-family="Liberation Serif, serif" fill="#111" color="#111" >All</text>
<text x="642" y="741.8" text-anchor="start" font-size="8.42" font-family="Liberation Serif, serif" fill="#111" color="#111" >None</text>
</svg></body></html>
